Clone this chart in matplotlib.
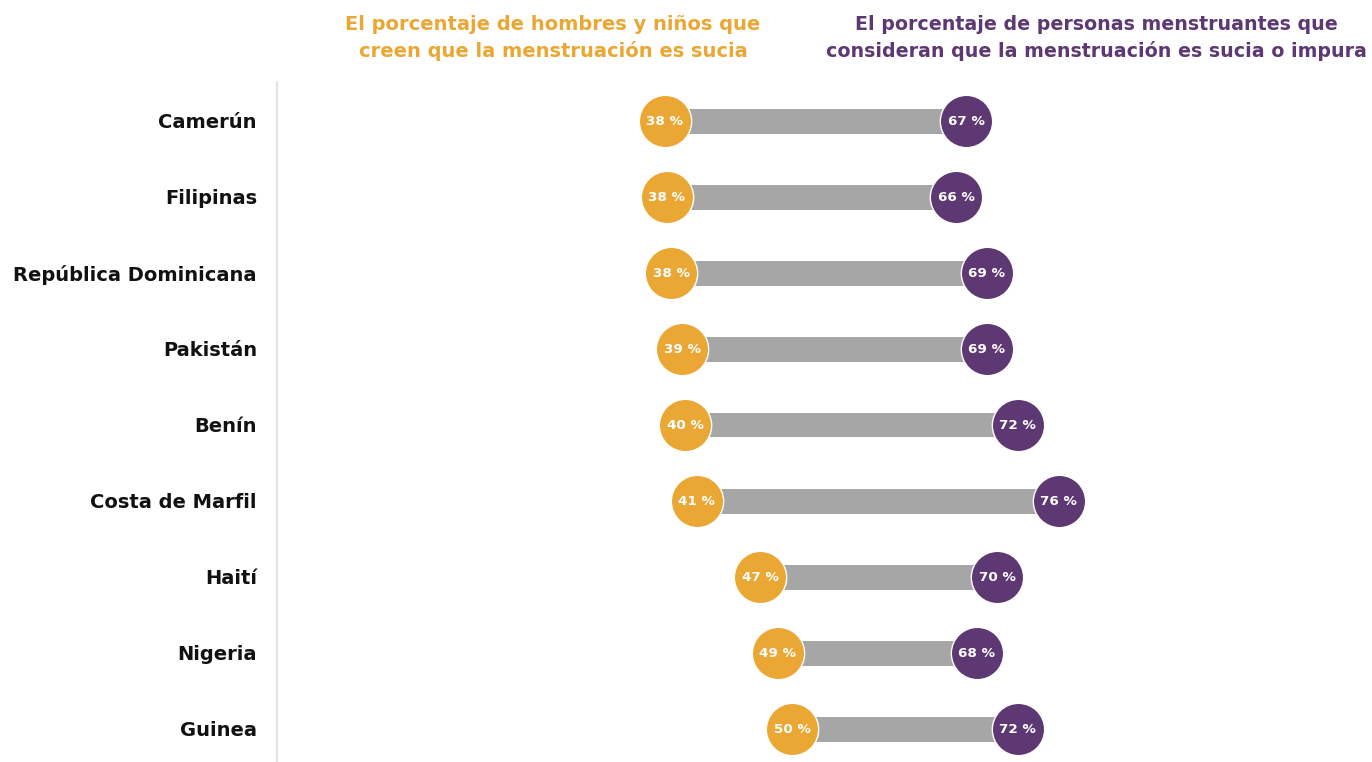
import matplotlib.pyplot as plt

# data (percent)
countries = ['Camerún', 'Filipinas', 'República Dominicana', 'Pakistán', 'Benín',
             'Costa de Marfil', 'Haití', 'Nigeria', 'Guinea']
men_dirty = [37.6, 37.8, 38.2, 39.3, 39.6, 40.7, 46.9, 48.6, 50.0]
menstruators_dirty = [67, 66, 69, 69, 72, 76, 70, 68, 72]

header_left = 'El porcentaje de hombres y niños que\ncreen que la menstruación es sucia'
header_right = 'El porcentaje de personas menstruantes que\nconsideran que la menstruación es sucia o impura'

ORANGE = '#EBA734'
PURPLE = '#5E3873'
GREY = '#A6A6A6'

plt.rcParams['font.family'] = ['DejaVu Sans']

fig = plt.figure(figsize=(13.72, 7.62), dpi=100)
ax = fig.add_axes([0, 0, 1, 1])

# x: 0 % sits at pixel ~279, ~10.25 px per %
ax.set_xlim(-279.5 / 10.25, (1372 - 279.5) / 10.25)
# rows every 76 px, first row centred at pixel 121
ax.set_ylim((762 - 121) / 76, -121 / 76)
ax.axis('off')

rows = list(range(len(countries)))

# grey connecting bars
widths = [p - m for m, p in zip(men_dirty, menstruators_dirty)]
ax.barh(rows, widths, left=men_dirty, height=25 / 76, color=GREY, zorder=1)

# the two dots
ax.scatter(men_dirty, rows, s=1420, color=ORANGE, edgecolors='white', linewidths=1, zorder=2)
ax.scatter(menstruators_dirty, rows, s=1420, color=PURPLE, edgecolors='white', linewidths=1, zorder=2)

for i, (m, p) in enumerate(zip(men_dirty, menstruators_dirty)):
    ax.text(m, i + 0.01, f'{round(m)} %', color='white', fontsize=9.7, fontweight='bold',
            ha='center', va='center', zorder=3)
    ax.text(p, i + 0.01, f'{round(p)} %', color='white', fontsize=9.7, fontweight='bold',
            ha='center', va='center', zorder=3)
    ax.text(-2.2, i + 0.02, countries[i], color='#111111', fontsize=14, fontweight='bold',
            ha='right', va='center')

# thin separator line between names and chart
ax.axvline(-0.2, ymin=0, ymax=(762 - 82) / 762, color='#E3E3E3', linewidth=1.5, zorder=0)

# column headers
fig.text(553 / 1372, 1 - 38 / 762, header_left, color=ORANGE, fontsize=14, fontweight='bold',
         ha='center', va='center', linespacing=1.4)
fig.text(1096 / 1372, 1 - 38 / 762, header_right, color=PURPLE, fontsize=13.7, fontweight='bold',
         ha='center', va='center', linespacing=1.43)

plt.savefig('out.png', dpi=100)
